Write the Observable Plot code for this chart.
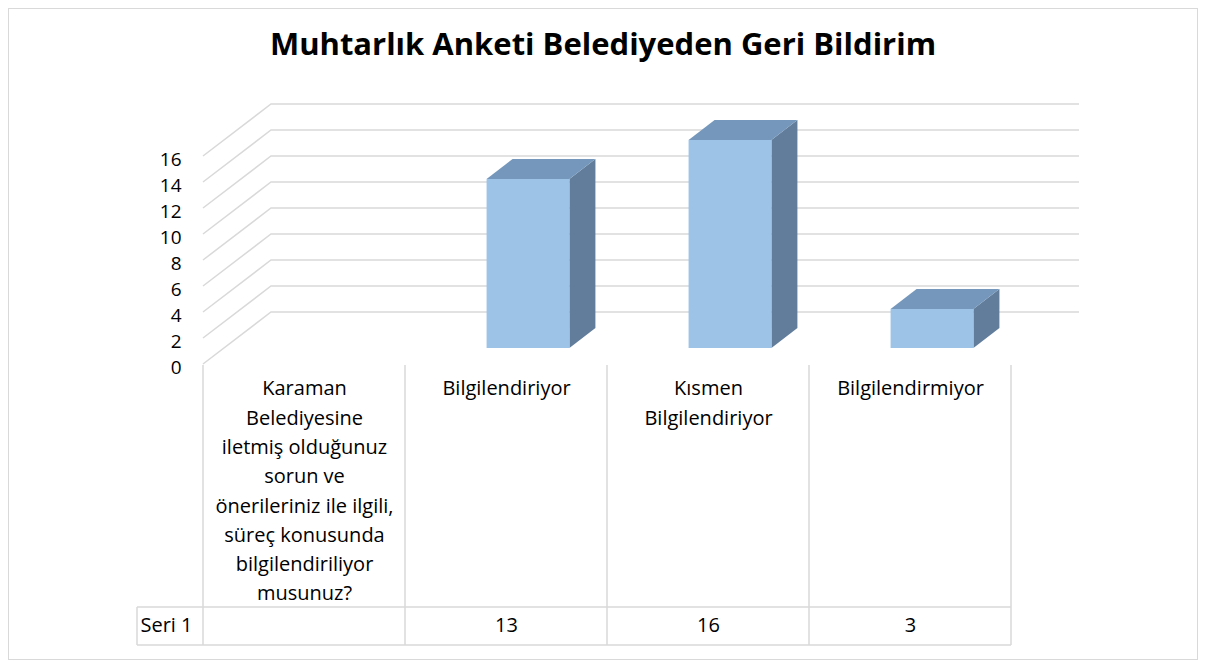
<!DOCTYPE html>
<html><head><meta charset="utf-8">
<script src="https://cdn.jsdelivr.net/npm/d3@7"></script>
<script src="https://cdn.jsdelivr.net/npm/@observablehq/plot@0.6"></script>
<style>
body{margin:0;background:#fff;}
#wrap{position:relative;width:1206px;height:666px;font-family:"Open Sans",Lato,sans-serif;overflow:hidden}
#frame{position:absolute;left:8px;top:8px;width:1190px;height:652px;border:1px solid #d9d9d9;box-sizing:border-box}
#title{position:absolute;left:0;width:1206px;top:22px;text-align:center;font-weight:bold;font-size:31px;color:#000;line-height:42px}
#chart{position:absolute;left:0;top:0}
</style></head><body>
<div id="wrap"><div id="frame"></div><div id="title"></div><div id="chart"></div></div>
<script>
const chartTitle = "Muhtarlık Anketi Belediyeden Geri Bildirim";
const categories = [
  "Karaman\nBelediyesine\niletmiş olduğunuz\nsorun ve\nönerileriniz ile ilgili,\nsüreç konusunda\nbilgilendiriliyor\nmusunuz?",
  "Bilgilendiriyor",
  "Kısmen\nBilgilendiriyor",
  "Bilgilendirmiyor"
];
const values = [null, 13, 16, 3];
const seriesName = "Seri 1";
const yTicks = [0, 2, 4, 6, 8, 10, 12, 14, 16];

document.getElementById("title").textContent = chartTitle;

// 3D geometry (pixels)
const WALL = [68, -52];     // back wall offset from front plane
const BAR_FRONT = [22, -16]; // bar front face offset
const BAR_DEPTH = [26, -20]; // bar depth
const BAR_W = 0.41;          // fraction of band
const GRID = "#d9d9d9";
const FONT = "'Open Sans', Lato, sans-serif";
const FS = 20;

const rows = categories.map((c, i) => ({cat: c, value: values[i]}));

function gridMark(index, {x, y}, channels, dims) {
  const g = d3.create("svg:g").attr("fill", "none").attr("stroke", GRID).attr("stroke-width", 1.5);
  const xl = dims.marginLeft, xr = dims.width - dims.marginRight;
  for (const t of yTicks) {
    const py = y(t);
    g.append("path").attr("d", `M${xl},${py}L${xl + WALL[0]},${py + WALL[1]}L${xr + WALL[0]},${py + WALL[1]}`);
  }
  return g.node();
}

function barsMark(index, {x, y}, channels, dims) {
  const g = d3.create("svg:g");
  const bw = x.bandwidth();
  for (const r of rows) {
    if (r.value == null) continue;
    const w = bw * BAR_W;
    const x0 = x(r.cat) + bw / 2 - w / 2 + BAR_FRONT[0];
    const x1 = x0 + w;
    const yb = y(0) + BAR_FRONT[1];
    const yt = y(r.value) + BAR_FRONT[1];
    const [dx, dy] = BAR_DEPTH;
    g.append("path").attr("fill", "#617d9b")
      .attr("d", `M${x1},${yt}L${x1 + dx},${yt + dy}L${x1 + dx},${yb + dy}L${x1},${yb}Z`);
    g.append("path").attr("fill", "#7597bb")
      .attr("d", `M${x0},${yt}L${x1},${yt}L${x1 + dx},${yt + dy}L${x0 + dx},${yt + dy}Z`);
    g.append("rect").attr("fill", "#9dc3e6").attr("x", x0).attr("y", yt).attr("width", w).attr("height", yb - yt);
  }
  return g.node();
}

function tableMark(index, {x, y}, channels, dims) {
  const g = d3.create("svg:g").attr("fill", "none").attr("stroke", GRID).attr("stroke-width", 1.5);
  const bw = x.bandwidth();
  const top = y(0) + 1;
  const rowTop = top + 242, rowBot = top + 280;
  const xl = x(categories[0]), xr = x(categories[categories.length - 1]) + bw;
  const labelLeft = xl - 66;
  for (const c of categories) {
    g.append("line").attr("x1", x(c)).attr("x2", x(c)).attr("y1", top).attr("y2", rowBot);
  }
  g.append("line").attr("x1", xr).attr("x2", xr).attr("y1", top).attr("y2", rowBot);
  g.append("line").attr("x1", labelLeft).attr("x2", labelLeft).attr("y1", rowTop).attr("y2", rowBot);
  g.append("line").attr("x1", labelLeft).attr("x2", xr).attr("y1", rowTop).attr("y2", rowTop);
  g.append("line").attr("x1", labelLeft).attr("x2", xr).attr("y1", rowBot).attr("y2", rowBot);
  return g.node();
}

const plot = Plot.plot({
  width: 1206,
  height: 666,
  marginLeft: 203,
  marginRight: 195,
  marginTop: 156,
  marginBottom: 302,
  style: {fontFamily: FONT, background: "transparent", color: "#000"},
  x: {type: "band", domain: categories, padding: 0, axis: null},
  y: {domain: [0, 16], axis: null},
  marks: [
    gridMark,
    Plot.axisY(yTicks, {tickSize: 0, tickPadding: 22, dy: 3, fontSize: 19, label: null, fill: "#000"}),
    barsMark,
    tableMark,
    Plot.text(rows, {x: "cat", text: "cat", frameAnchor: "bottom", lineAnchor: "top", dy: 10, fontSize: FS, lineHeight: 1.465, fill: "#000"}),
    Plot.text(rows.filter(r => r.value != null), {x: "cat", text: r => String(r.value), frameAnchor: "bottom", dy: 267, fontSize: FS, fill: "#000"}),
    Plot.text([seriesName], {frameAnchor: "bottom-left", textAnchor: "start", dx: -63, dy: 267, fontSize: FS, fill: "#000"})
  ]
});
document.getElementById("chart").appendChild(plot);
</script>
</body></html>
